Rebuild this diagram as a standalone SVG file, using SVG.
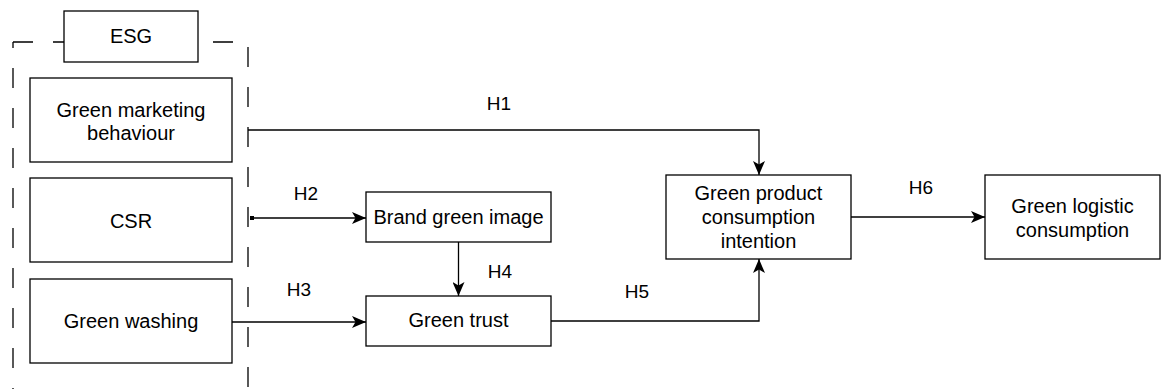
<svg xmlns="http://www.w3.org/2000/svg" width="1162" height="389" viewBox="0 0 1162 389">
<style>
.box{fill:#fff;stroke:#000;stroke-width:1.3}
.t{font-family:"Liberation Sans",Arial,sans-serif;font-size:20px;fill:#000;text-anchor:middle}
.h{font-family:"Liberation Sans",Arial,sans-serif;font-size:19px;fill:#000;text-anchor:middle}
.c{fill:none;stroke:#000;stroke-width:1.3}
.d{fill:none;stroke:#000;stroke-width:1.3;stroke-dasharray:20 20}
</style>
<defs>
<marker id="arr" viewBox="0 0 14 12" refX="14" refY="6" markerWidth="14" markerHeight="12" markerUnits="userSpaceOnUse" orient="auto">
<path d="M0,0 L14,6 L0,12 L3.5,6 Z" fill="#000"/>
</marker>
<marker id="dot" viewBox="0 0 4 4" refX="2" refY="2" markerWidth="4" markerHeight="4" markerUnits="userSpaceOnUse" orient="auto">
<rect x="0" y="0" width="4" height="4" fill="#000"/>
</marker>
</defs>
<rect width="1162" height="389" fill="#fff"/>
<g id="esg-group">
<path class="d" d="M13,42 H248 V400"/>
<path class="d" d="M13,42 V400" stroke-dashoffset="14"/>
</g>
<g id="esg">
<rect class="box" x="64" y="11" width="134" height="51"/>
<text class="t" x="131" y="43">ESG</text>
</g>
<g id="gmb">
<rect class="box" x="30" y="78" width="202" height="84"/>
<text class="t" x="131" y="117">Green marketing</text>
<text class="t" x="131" y="140">behaviour</text>
</g>
<g id="csr">
<rect class="box" x="30" y="178" width="202" height="84"/>
<text class="t" x="131" y="228">CSR</text>
</g>
<g id="gw">
<rect class="box" x="30" y="279" width="202" height="84"/>
<text class="t" x="131" y="328">Green washing</text>
</g>
<g id="bgi">
<rect class="box" x="366" y="192" width="185" height="50"/>
<text class="t" x="458.5" y="224">Brand green image</text>
</g>
<g id="gt">
<rect class="box" x="366" y="296" width="185" height="50"/>
<text class="t" x="458.5" y="327">Green trust</text>
</g>
<g id="gpci">
<rect class="box" x="666" y="175" width="185" height="84"/>
<text class="t" x="758.5" y="200">Green product</text>
<text class="t" x="758.5" y="224">consumption</text>
<text class="t" x="758.5" y="248">intention</text>
</g>
<g id="glc">
<rect class="box" x="985" y="175" width="175" height="84"/>
<text class="t" x="1072.5" y="213">Green logistic</text>
<text class="t" x="1072.5" y="237">consumption</text>
</g>
<g id="connectors">
<path class="c" d="M248,130 H759 V175" marker-end="url(#arr)"/>
<text class="h" x="499" y="110">H1</text>
<path class="c" d="M252,218 H366" marker-start="url(#dot)" marker-end="url(#arr)"/>
<text class="h" x="306" y="200">H2</text>
<path class="c" d="M232,322 H366" marker-end="url(#arr)"/>
<text class="h" x="299" y="296">H3</text>
<path class="c" d="M458.5,242 V296" marker-end="url(#arr)"/>
<text class="h" x="500" y="278">H4</text>
<path class="c" d="M551,321 H759 V259" marker-end="url(#arr)"/>
<text class="h" x="637" y="298">H5</text>
<path class="c" d="M851,217 H985" marker-end="url(#arr)"/>
<text class="h" x="921" y="194">H6</text>
</g>
</svg>
